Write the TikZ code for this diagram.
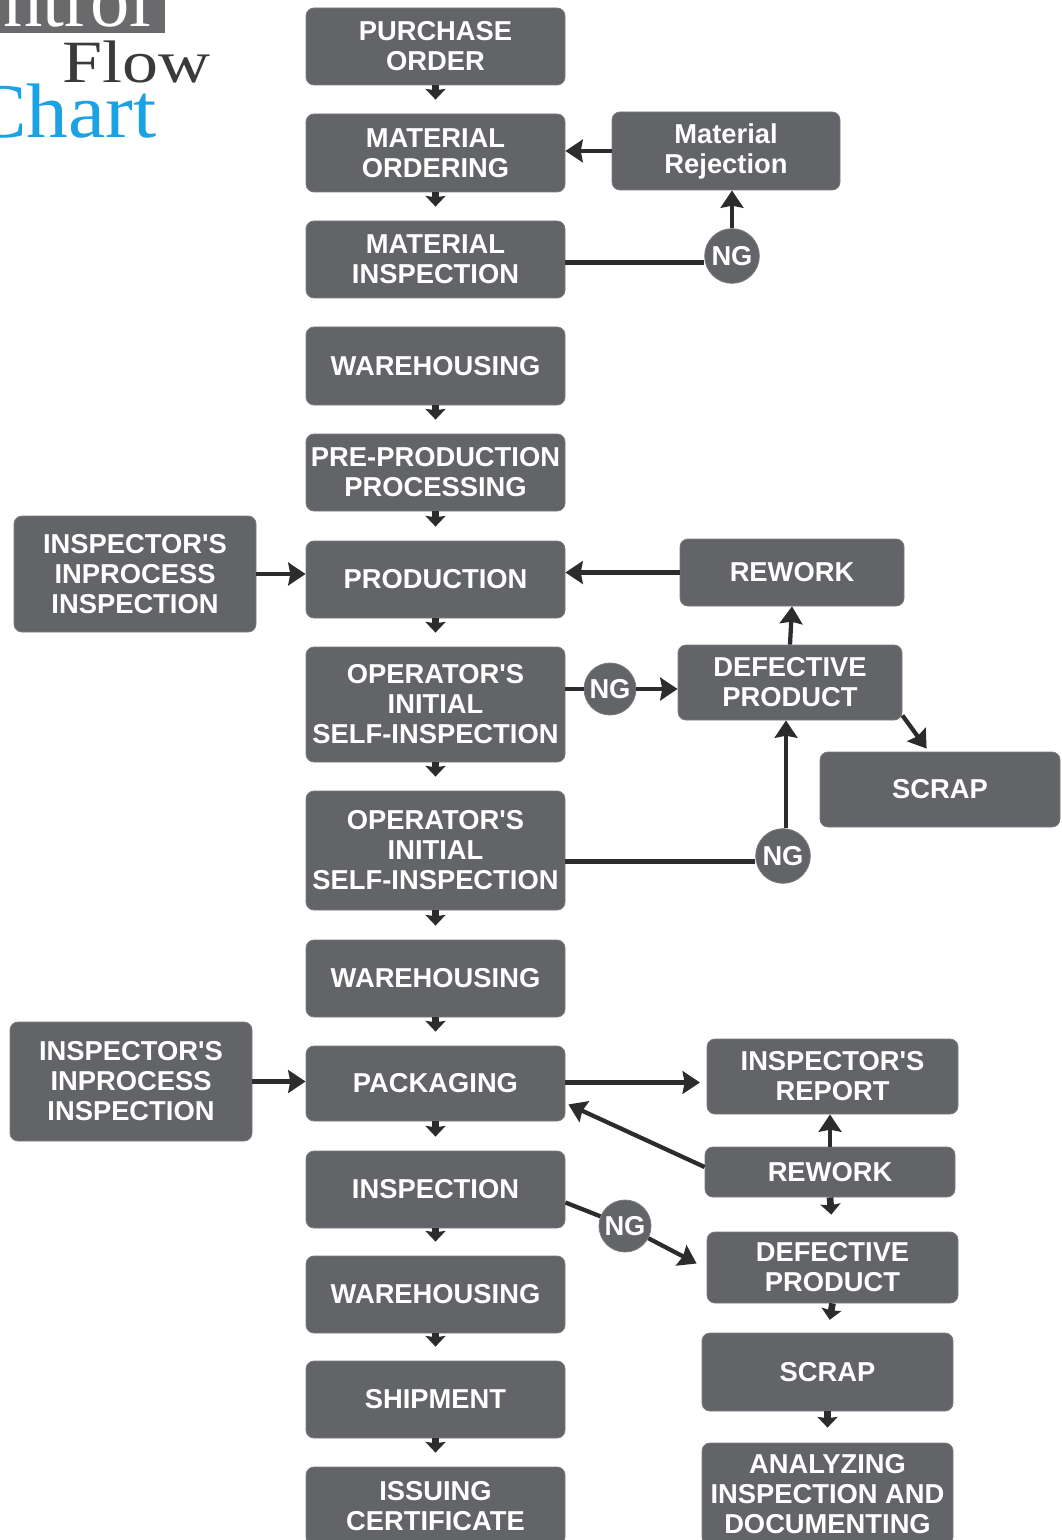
\documentclass[tikz,border=0pt]{standalone}
\usepackage{fontspec}
\setmainfont{Liberation Serif}
\newfontfamily\boxfont{Liberation Sans}
\usetikzlibrary{arrows.meta,calc}
\definecolor{boxgray}{HTML}{636468}
\definecolor{arrowc}{HTML}{2C2C2C}
\definecolor{flowc}{HTML}{3A3A3A}
\definecolor{chartc}{HTML}{1AA2E4}
\definecolor{titlegray}{HTML}{6A6A6C}
\newcommand{\mkbox}[6]{\node[pbox, minimum width={(#4-(#2))*0.75pt}, minimum height={(#5-(#3))*0.75pt}] (#1) at ({(#2+#4)/2},{(#3+#5)/2}) {#6};}
\newcommand{\smallarr}[3]{\draw[smallarrow, shorten >={#3*0.75pt}] (#1.south) -- (#2.north);}
\begin{document}
\begin{tikzpicture}[x=0.75pt,y=-0.75pt,
  pbox/.style={rectangle, rounded corners=6pt, fill=boxgray, draw=boxgray!85!white, line width=0.6pt, text=white, align=center, inner sep=0pt,
    font=\boxfont\bfseries\fontsize{20.5}{22.5}\selectfont},
  ngnode/.style={circle, fill=boxgray, draw=boxgray!85!white, line width=0.6pt, text=white, inner sep=0pt, minimum size=#1,
    font=\boxfont\bfseries\fontsize{20.5}{22}\selectfont},
  ngnode/.default=39pt,
  bigarrow/.style={draw=arrowc, line width=3.2pt, -{Stealth[length=13pt,width=17pt,inset=1.5pt]}},
  plainline/.style={draw=arrowc, line width=3.2pt},
  smallarrow/.style={draw=arrowc, line width=5pt, -{Stealth[length=8pt,width=15pt,inset=1pt]}}
]
\useasboundingbox (0,0) rectangle (1062,1540);

% title
\fill[titlegray] (-60,-40) rectangle (165,33);
\node[anchor=base east, text=white, font=\fontsize{59}{59}\selectfont, inner sep=0pt] (ttl1) at (152,27) {ntrol};
\node[anchor=base west, text=flowc, font=\fontsize{45}{45}\selectfont, inner sep=0pt] (ttl2) at (62,83) {\scalebox{1.2}[1]{Flow}};
\node[anchor=base east, text=chartc, font=\fontsize{58}{58}\selectfont, inner sep=0pt] (ttl3) at (157,138) {\scalebox{1.08}[1]{Chart}};

% main column
\mkbox{po}{306}{8}{565}{85}{PURCHASE\\ORDER}
\mkbox{mo}{306}{114}{565}{192}{MATERIAL\\ORDERING}
\mkbox{mi}{306}{221}{565}{298}{MATERIAL\\INSPECTION}
\mkbox{wha}{306}{327}{565}{405}{WAREHOUSING}
\mkbox{ppp}{306}{434}{565}{511}{PRE-PRODUCTION\\PROCESSING}
\mkbox{prod}{306}{541}{565}{618}{PRODUCTION}
\mkbox{opa}{306}{647}{565}{762}{OPERATOR'S\\INITIAL\\SELF-INSPECTION}
\mkbox{opb}{306}{791}{565}{910}{OPERATOR'S\\INITIAL\\SELF-INSPECTION}
\mkbox{whb}{306}{940}{565}{1017}{WAREHOUSING}
\mkbox{pack}{306}{1046}{565}{1121}{PACKAGING}
\mkbox{insp}{306}{1151}{565}{1228}{INSPECTION}
\mkbox{whc}{306}{1256}{565}{1333}{WAREHOUSING}
\mkbox{ship}{306}{1361}{565}{1438}{SHIPMENT}
\mkbox{iss}{306}{1467}{565}{1545}{ISSUING\\CERTIFICATE}

% side boxes
\mkbox{mr}{612}{112}{840}{190}{Material\\Rejection}
\mkbox{rwa}{680}{539}{904}{606}{REWORK}
\mkbox{defa}{678}{645}{902}{720}{DEFECTIVE\\PRODUCT}
\mkbox{scrapa}{820}{752}{1060}{827}{SCRAP}
\mkbox{lefta}{14}{516}{256}{632}{INSPECTOR'S\\INPROCESS\\INSPECTION}
\mkbox{leftb}{10}{1022}{252}{1141}{INSPECTOR'S\\INPROCESS\\INSPECTION}
\mkbox{report}{707}{1039}{958}{1114}{INSPECTOR'S\\REPORT}
\mkbox{rwb}{705}{1147}{955}{1197}{REWORK}
\mkbox{defb}{707}{1232}{958}{1303}{DEFECTIVE\\PRODUCT}
\mkbox{scrapb}{702}{1333}{953}{1411}{SCRAP}
\mkbox{ana}{702}{1443}{953}{1545}{ANALYZING\\INSPECTION AND\\DOCUMENTING}

% NG circles
\node[ngnode=41pt] (nga) at (732,256) {NG};
\node[ngnode] (ngb) at (610,689) {NG};
\node[ngnode=41pt] (ngc) at (783,856) {NG};
\node[ngnode] (ngd) at (625,1226) {NG};

% helper coordinates
\coordinate (miout) at ($(mi.east)+(0,3)$);
\coordinate (opbout) at ($(opb.east)+(0,11)$);
\coordinate (ngcup) at ($(ngc.north)+(3,0)$);
\coordinate (packout) at ($(pack.east)+(0,-1)$);
\coordinate (rwbout) at ($(rwb.west)+(0,-5)$);
\coordinate (packin) at ($(pack.south east)+(3,-17)$);
\coordinate (defain) at ($(scrapa.north west)+(107,-3)$);
\coordinate (defaout) at ($(defa.south east)+(0,-5)$);
\coordinate (inspout) at ($(insp.east)+(0,13)$);
\coordinate (defbin) at ($(defb.west)+(-10,-4)$);

% main column small arrows
\smallarr{po}{mo}{14}
\smallarr{mo}{mi}{14}
\smallarr{wha}{ppp}{14}
\smallarr{ppp}{prod}{14}
\smallarr{prod}{opa}{14}
\smallarr{opa}{opb}{14}
\smallarr{opb}{whb}{14}
\smallarr{whb}{pack}{14}
\smallarr{pack}{insp}{14}
\smallarr{insp}{whc}{14}
\smallarr{whc}{ship}{14}
\smallarr{ship}{iss}{14}
\smallarr{rwb}{defb}{17}
\smallarr{defb}{scrapb}{13}
\smallarr{scrapb}{ana}{15}

% material rejection loop
\draw[plainline] (miout) -- (miout -| nga.west);
\draw[bigarrow] (nga.north) -- (nga.north |- mr.south);
\draw[bigarrow] (mr.west) -- (mr.west -| mo.east);

% production loop
\draw[bigarrow] (lefta.east) -- (lefta.east -| prod.west);
\draw[bigarrow] (rwa.west) -- (rwa.west -| prod.east);
\draw[plainline] (opa.east |- ngb) -- (ngb.west);
\draw[bigarrow] (ngb.east) -- (ngb.east -| defa.west);
\draw[bigarrow] (defa.north) -- (rwa.south);
\draw[bigarrow] (defaout) -- (defain);
\draw[plainline] (opbout) -- (opbout -| ngc.west);
\draw[bigarrow] (ngcup) -- (ngcup |- defa.south);

% packaging loop
\draw[bigarrow] (leftb.east) -- (leftb.east -| pack.west);
\draw[bigarrow, shorten >=5pt] (packout) -- (packout -| report.west);
\draw[bigarrow] (rwbout) -- (packin);
\draw[bigarrow] (rwb.north) -- (rwb.north |- report.south);
\draw[plainline] (inspout) -- (ngd);
\draw[bigarrow] (ngd) -- (defbin);
\end{tikzpicture}
\end{document}
